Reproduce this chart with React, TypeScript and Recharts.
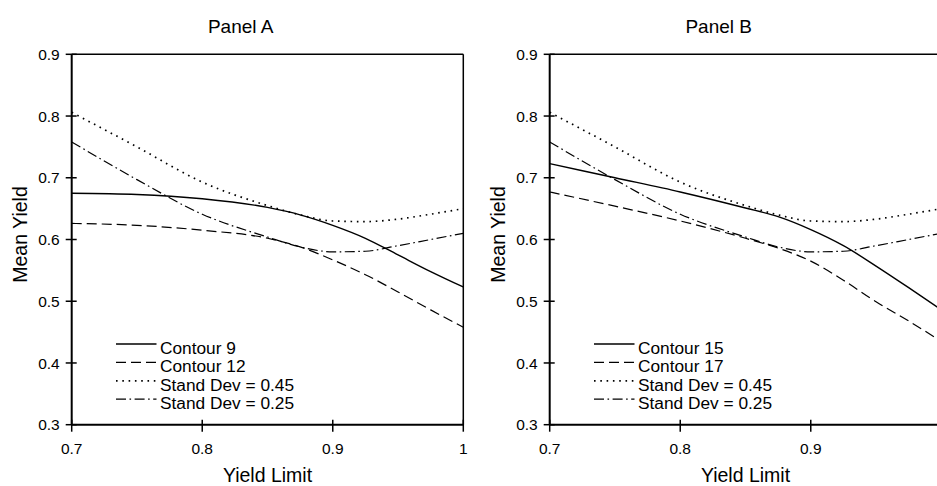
import React from 'react';
import { LineChart, Line, XAxis, YAxis, ReferenceLine, Legend } from 'recharts';

// ---- data ----
const yieldLimit = [0.7, 0.75, 0.8, 0.85, 0.875, 0.9, 0.925, 0.95, 0.975, 1.0];

// Panel A
const contour9 = [0.675, 0.673, 0.666, 0.652, 0.64, 0.623, 0.602, 0.575, 0.548, 0.523];
const contour12 = [0.626, 0.623, 0.615, 0.602, 0.588, 0.567, 0.543, 0.515, 0.486, 0.458];
const sdHighA = [0.806, 0.75, 0.693, 0.655, 0.64, 0.63, 0.629, 0.633, 0.641, 0.65];
const sdLowA = [0.758, 0.697, 0.641, 0.604, 0.588, 0.58, 0.581, 0.59, 0.6, 0.61];

// Panel B
const contour15 = [0.723, 0.7, 0.677, 0.651, 0.637, 0.616, 0.59, 0.557, 0.522, 0.486];
const contour17 = [0.677, 0.654, 0.63, 0.602, 0.586, 0.565, 0.534, 0.499, 0.468, 0.435];
const sdHighB = [0.806, 0.75, 0.693, 0.655, 0.64, 0.63, 0.629, 0.633, 0.641, 0.65];
const sdLowB = [0.758, 0.697, 0.641, 0.604, 0.588, 0.58, 0.581, 0.59, 0.6, 0.61];

const yTicks = [0.3, 0.4, 0.5, 0.6, 0.7, 0.8, 0.9];
const xTicksA = [0.7, 0.8, 0.9, 1.0];
const xTicksB = [0.7, 0.8, 0.9];

const FONT = '"Liberation Sans", Arial, Helvetica, sans-serif';

type Series = { key: string; name: string; values: number[]; dash?: string; width: number };

const SOLID = { dash: undefined, width: 1.4 };
const DASHED = { dash: '10 5', width: 1.2 };
const DOTTED = { dash: '1.6 4.7', width: 1.7 };
const DASHDOT = { dash: '10 3.5 1.6 3.5', width: 1.2 };

const seriesA: Series[] = [
  { key: 'c9', name: 'Contour 9', values: contour9, ...SOLID },
  { key: 'c12', name: 'Contour 12', values: contour12, ...DASHED },
  { key: 'sdh', name: 'Stand Dev = 0.45', values: sdHighA, ...DOTTED },
  { key: 'sdl', name: 'Stand Dev = 0.25', values: sdLowA, ...DASHDOT },
];
const seriesB: Series[] = [
  { key: 'c15', name: 'Contour 15', values: contour15, ...SOLID },
  { key: 'c17', name: 'Contour 17', values: contour17, ...DASHED },
  { key: 'sdh', name: 'Stand Dev = 0.45', values: sdHighB, ...DOTTED },
  { key: 'sdl', name: 'Stand Dev = 0.25', values: sdLowB, ...DASHDOT },
];

function buildRows(series: Series[]) {
  return yieldLimit.map((x, i) => {
    const row: Record<string, number> = { x };
    series.forEach((s) => {
      row[s.key] = s.values[i];
    });
    return row;
  });
}

const fmt = (v: number) => (v === 1 ? '1' : v.toFixed(1));

const YTick = (props: any) => {
  const { x, y, payload } = props;
  const axisX = x + 12;
  return (
    <g>
      <line x1={axisX - 6} x2={axisX + 5} y1={y} y2={y} stroke="#000" strokeWidth={1.5} />
      <text x={x} y={y} dy="0.36em" textAnchor="end" fontSize={15.5} fontFamily={FONT} fill="#000">
        {fmt(payload.value)}
      </text>
    </g>
  );
};

const XTick = (props: any) => {
  const { x, y, payload } = props;
  const axisY = y - 18;
  return (
    <g>
      <line x1={x} x2={x} y1={axisY - 5} y2={axisY + 7} stroke="#000" strokeWidth={1.5} />
      <text x={x} y={y} dy="0.71em" textAnchor="middle" fontSize={15.5} fontFamily={FONT} fill="#000">
        {fmt(payload.value)}
      </text>
    </g>
  );
};

const LegendBox = ({ series }: { series: Series[] }) => (
  <svg width={200} height={80} style={{ display: 'block', overflow: 'visible' }}>
    {series.map((s, i) => (
      <g key={s.key}>
        <line
          x1={2}
          x2={42.5}
          y1={8 + 18.4 * i}
          y2={8 + 18.4 * i}
          stroke="#000"
          strokeWidth={s.width}
          strokeDasharray={s.dash}
        />
        <text x={46} y={18 + 18.4 * i} fontSize={17.3} fontFamily={FONT} fill="#000">
          {s.name}
        </text>
      </g>
    ))}
  </svg>
);

const YLabel = (props: any) => {
  const vb = props.viewBox || { x: 11.7, y: 54.3, width: 60, height: 370 };
  const cx = vb.x + 8.3;
  const cy = vb.y + vb.height / 2 - 5;
  return (
    <text
      x={cx}
      y={cy}
      transform={`rotate(-90 ${cx} ${cy})`}
      textAnchor="middle"
      dy="0.36em"
      fontSize={19.5}
      fontFamily={FONT}
      fill="#000"
    >
      Mean Yield
    </text>
  );
};

const Panel = ({ title, series, xTicks, left }: { title: string; series: Series[]; xTicks: number[]; left: number }) => {
  const data = buildRows(series);
  return (
    <div style={{ position: 'absolute', left, top: 0, width: 470, height: 486 }}>
      <div
        style={{
          position: 'absolute',
          left: 0,
          top: 16.7,
          width: 481.4,
          textAlign: 'center',
          fontFamily: FONT,
          fontSize: 19,
          lineHeight: '20px',
          color: '#000',
        }}
      >
        {title}
      </div>
      <LineChart
        width={470}
        height={486}
        data={data}
        margin={{ top: 54.3, right: 6.7, bottom: 31.3, left: 11.7 }}
      >
        <XAxis
          dataKey="x"
          type="number"
          domain={[0.7, 1.0]}
          ticks={xTicks}
          interval={0}
          height={30}
          tickSize={7}
          tickMargin={11}
          tickLine={false}
          tick={<XTick />}
          axisLine={{ stroke: '#000', strokeWidth: 2 }}
          label={{
            value: 'Yield Limit',
            position: 'bottom',
            offset: 13.5,
            fontSize: 19.5,
            fontFamily: FONT,
            fill: '#000',
          }}
        />
        <YAxis
          type="number"
          domain={[0.3, 0.9]}
          ticks={yTicks}
          interval={0}
          width={60}
          tickSize={6}
          tickMargin={6}
          tickLine={false}
          tick={<YTick />}
          axisLine={{ stroke: '#000', strokeWidth: 2 }}
          label={<YLabel />}
        />
        <ReferenceLine y={0.9} stroke="#000" strokeWidth={1.5} />
        <ReferenceLine x={1.0} stroke="#000" strokeWidth={1.5} />
        {series.map((s) => (
          <Line
            key={s.key}
            dataKey={s.key}
            name={s.name}
            type="monotone"
            stroke="#000"
            strokeWidth={s.width}
            strokeDasharray={s.dash}
            dot={false}
            activeDot={false}
            isAnimationActive={false}
          />
        ))}
        <Legend
          layout="vertical"
          align="center"
          verticalAlign="middle"
          wrapperStyle={{ left: 114, top: 336, width: 200, height: 80 }}
          content={() => <LegendBox series={series} />}
        />
      </LineChart>
    </div>
  );
}

export default function App() {
  return (
    <div
      style={{
        position: 'fixed',
        left: 0,
        top: 0,
        width: 937,
        height: 486,
        overflow: 'hidden',
        background: '#fff',
      }}
    >
      <Panel title="Panel A" series={seriesA} xTicks={xTicksA} left={0} />
      <Panel title="Panel B" series={seriesB} xTicks={xTicksB} left={478} />
    </div>
  );
}
